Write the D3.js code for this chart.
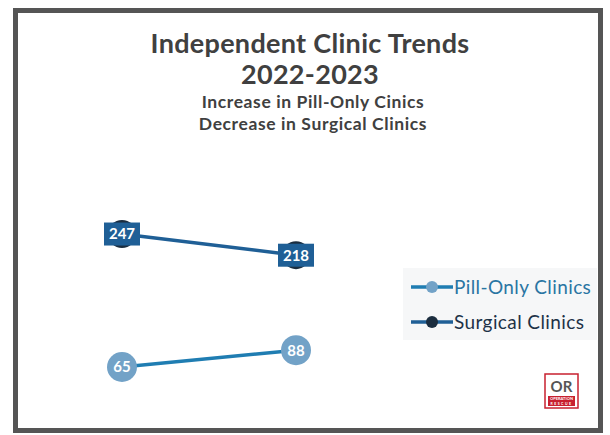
<!DOCTYPE html>
<html>
<head>
<meta charset="utf-8">
<script src="https://cdn.jsdelivr.net/npm/d3@7"></script>
<style>
  body { margin: 0; background: #fff; }
  text { font-family: Lato, "Open Sans", sans-serif; }
</style>
</head>
<body>
<svg id="chart" width="610" height="435"></svg>
<script>
// chart data
const years = ['2022', '2023'];
const surgical = [247, 218];
const pillOnly = [65, 88];
const seriesNames = ['Pill-Only Clinics', 'Surgical Clinics'];
const titleLines = ['Independent Clinic Trends', '2022-2023'];
const subtitleLines = ['Increase in Pill-Only Cinics', 'Decrease in Surgical Clinics'];

const svg = d3.select('#chart');

// frame
svg.append('rect')
    .attr('x', 15.5).attr('y', 10.5)
    .attr('width', 585).attr('height', 420)
    .attr('fill', '#fff')
    .attr('stroke', '#555')
    .attr('stroke-width', 5);

// titles
svg.selectAll('text.title')
  .data(titleLines)
  .enter()
  .append('text')
    .attr('x', 310)
    .attr('y', (d, i) => 53 + i * 31)
    .attr('text-anchor', 'middle')
    .attr('font-size', 27)
    .attr('font-weight', 'bold')
    .attr('letter-spacing', 0.3)
    .attr('fill', '#404040')
    .text(d => d);

svg.selectAll('text.subtitle')
  .data(subtitleLines)
  .enter()
  .append('text')
    .attr('x', 313)
    .attr('y', (d, i) => 108 + i * 22)
    .attr('text-anchor', 'middle')
    .attr('font-size', 17.5)
    .attr('font-weight', 'bold')
    .attr('letter-spacing', 0.6)
    .attr('fill', '#404040')
    .text(d => d);

const x = d3.scalePoint().domain(years).range([122, 296]);
const y = d3.scaleLinear().domain([0, 300]).range([414.5, 195.3]);

const line = d3.line()
    .x((d, i) => x(years[i]))
    .y(d => y(d));

// lines
svg.append('path')
    .datum(surgical)
    .attr('d', line)
    .attr('fill', 'none')
    .attr('stroke', '#1f5f96')
    .attr('stroke-width', 3.5);

svg.append('path')
    .datum(pillOnly)
    .attr('d', line)
    .attr('fill', 'none')
    .attr('stroke', '#1f7db2')
    .attr('stroke-width', 3.5);

// surgical markers + boxed labels
const sg = svg.selectAll('g.surg')
  .data(surgical)
  .enter()
  .append('g')
    .attr('transform', (d, i) => `translate(${x(years[i])},${y(d)})`);
sg.append('circle').attr('r', 14).attr('fill', '#1b2d3f');
sg.append('rect')
    .attr('x', -18).attr('y', -11.5)
    .attr('width', 36).attr('height', 23)
    .attr('fill', '#1f5f96');
sg.append('text')
    .attr('dy', '0.36em')
    .attr('text-anchor', 'middle')
    .attr('font-size', 15)
    .attr('font-weight', 'bold')
    .attr('fill', '#fff')
    .text(d => d);

// pill-only markers
const pg = svg.selectAll('g.pill')
  .data(pillOnly)
  .enter()
  .append('g')
    .attr('transform', (d, i) => `translate(${x(years[i])},${y(d)})`);
pg.append('circle').attr('r', 15).attr('fill', '#72a2c7');
pg.append('text')
    .attr('dy', '0.36em')
    .attr('text-anchor', 'middle')
    .attr('font-size', 15)
    .attr('font-weight', 'bold')
    .attr('fill', '#fff')
    .text(d => d);

// legend
const legend = svg.append('g').attr('transform', 'translate(403,268)');
legend.append('rect')
    .attr('width', 194).attr('height', 72)
    .attr('fill', '#f6f7f8');
const legendStyles = [
    {line: '#1f7db2', dot: '#72a2c7', text: '#2a75a3'},
    {line: '#1f5f96', dot: '#1b2d3f', text: '#1d3247'}
];
const items = legend.selectAll('g.item')
  .data(seriesNames)
  .enter()
  .append('g')
    .attr('transform', (d, i) => `translate(0,${19 + i * 35})`);
items.append('line')
    .attr('x1', 8).attr('x2', 50)
    .attr('stroke', (d, i) => legendStyles[i].line)
    .attr('stroke-width', 3.5);
items.append('circle')
    .attr('cx', 29).attr('r', 6)
    .attr('fill', (d, i) => legendStyles[i].dot);
items.append('text')
    .attr('x', 51)
    .attr('dy', '0.35em')
    .attr('font-size', 19)
    .attr('letter-spacing', 0.4)
    .attr('fill', (d, i) => legendStyles[i].text)
    .text(d => d);

// logo
const logo = svg.append('g').attr('transform', 'translate(545,374)');
logo.append('rect')
    .attr('width', 33).attr('height', 34)
    .attr('fill', '#fff')
    .attr('stroke', '#c8202f')
    .attr('stroke-width', 1.5);
logo.append('text')
    .attr('x', 16.5).attr('y', 18)
    .attr('text-anchor', 'middle')
    .attr('font-size', 15)
    .attr('font-weight', 'bold')
    .attr('fill', '#555')
    .text('OR');
logo.append('rect')
    .attr('x', 3).attr('y', 22).attr('width', 27).attr('height', 10)
    .attr('fill', '#c8202f');
logo.append('text')
    .attr('x', 16.5).attr('y', 26)
    .attr('text-anchor', 'middle')
    .attr('font-size', 4)
    .attr('font-weight', 'bold')
    .attr('fill', '#fff')
    .text('OPERATION');
logo.append('text')
    .attr('x', 16.5).attr('y', 31)
    .attr('text-anchor', 'middle')
    .attr('font-size', 3.5)
    .attr('font-weight', 'bold')
    .attr('letter-spacing', 1.5)
    .attr('fill', '#fff')
    .text('RESCUE');
</script>
</body>
</html>
